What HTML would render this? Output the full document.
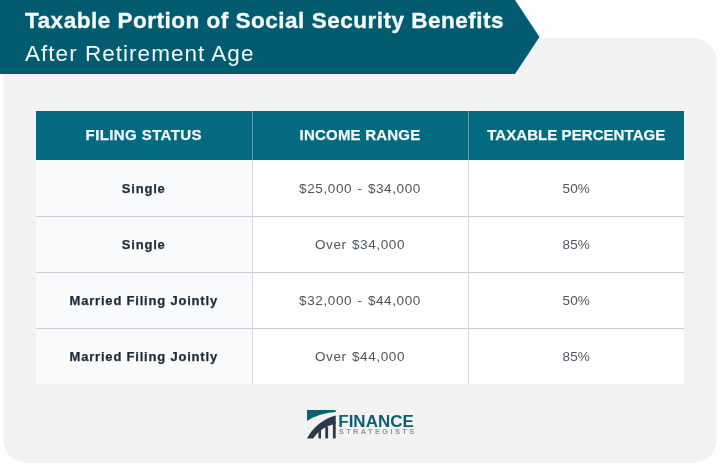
<!DOCTYPE html>
<html lang="en">
<head>
<meta charset="utf-8">
<title>Taxable Portion of Social Security Benefits</title>
<style>
*{box-sizing:border-box;margin:0;padding:0}
html,body{width:720px;height:468px;overflow:hidden;background:#fff}
body{position:relative;font-family:"Liberation Sans",Arial,sans-serif}
.panel{position:absolute;left:2.5px;top:37.5px;width:714.5px;height:425px;background:#f2f2f2;border-radius:0 24px 24px 24px}
.banner{position:absolute;left:0;top:0;width:540px;height:74px;background:#025b6e;
 clip-path:polygon(0 0,515px 0,539.5px 37px,515px 74px,0 74px)}
.title{position:absolute;left:25px;top:7px;font-weight:700;font-size:22.5px;line-height:28px;color:#f4fbfc;letter-spacing:.51px;white-space:nowrap;-webkit-text-stroke:.35px #f4fbfc}
.sub{position:absolute;left:25px;top:40px;font-weight:400;font-size:22.5px;line-height:28px;color:#f4fbfc;letter-spacing:1.03px;white-space:nowrap}
table{position:absolute;left:36px;top:111px;width:648px;border-collapse:collapse;table-layout:fixed;background:#fff}
th{-webkit-text-stroke:.25px #f2fafb;height:49px;background:#036a80;color:#f2fafb;font-weight:700;font-size:15px;letter-spacing:.4px;padding-bottom:3px;text-align:center;vertical-align:middle;border-right:1px solid #5aa0b0}
th:last-child,td:last-child{border-right:none}
td{height:56px;padding-top:1px;text-align:center;vertical-align:middle;font-size:13.5px;color:#4b5660;letter-spacing:.6px;word-spacing:1px;border-right:1px solid #d3d7d9;border-top:1px solid #c9cdd0}
tr:first-child td{border-top:none}
td:first-child{font-weight:700;color:#1f2d3a;-webkit-text-stroke:.25px #1f2d3a;background:#f8fafb;font-size:13px;letter-spacing:.8px;word-spacing:0}
td:last-child{letter-spacing:.2px}
.logo{position:absolute;left:306.7px;top:409.8px;width:120px;height:34px}
</style>
</head>
<body>
<div class="panel"></div>
<div class="banner"></div>
<div class="title">Taxable Portion of Social Security Benefits</div>
<div class="sub">After Retirement Age</div>
<table>
<thead><tr><th>FILING STATUS</th><th style="letter-spacing:.22px">INCOME RANGE</th><th style="letter-spacing:.07px">TAXABLE PERCENTAGE</th></tr></thead>
<tbody>
<tr><td>Single</td><td>$25,000 - $34,000</td><td>50%</td></tr>
<tr><td>Single</td><td>Over $34,000</td><td>85%</td></tr>
<tr><td>Married Filing Jointly</td><td>$32,000 - $44,000</td><td>50%</td></tr>
<tr><td>Married Filing Jointly</td><td>Over $44,000</td><td>85%</td></tr>
</tbody>
</table>
<svg class="logo" viewBox="0 0 120 34">
 <path d="M0 0H28.7V2Q12 3.2 0 11Z" fill="#0a6373"/>
 <path d="M0 28.4Q9.2 11.2 28.7 5.500V13.800Q14.2 16.800 6 28.4Z" fill="#2b3b47"/>
 <rect x="11.4" y="20" width="2.6" height="8.4" fill="#2b3b47"/>
 <rect x="18.3" y="16.500" width="2.8" height="11.900" fill="#2b3b47"/>
 <rect x="25.900" y="12" width="2.8" height="16.4" fill="#2b3b47"/>
 <text x="31.300" y="16.500" font-family="Liberation Sans, Arial, sans-serif" font-weight="700" font-size="16.300" fill="#0a5f72" textLength="75.400" lengthAdjust="spacingAndGlyphs">FINANCE</text>
 <text x="31.800" y="23.800" font-family="Liberation Sans, Arial, sans-serif" font-weight="700" font-size="7.500" fill="#8f979d" textLength="75.500" lengthAdjust="spacing">STRATEGISTS</text>
</svg>
</body>
</html>
